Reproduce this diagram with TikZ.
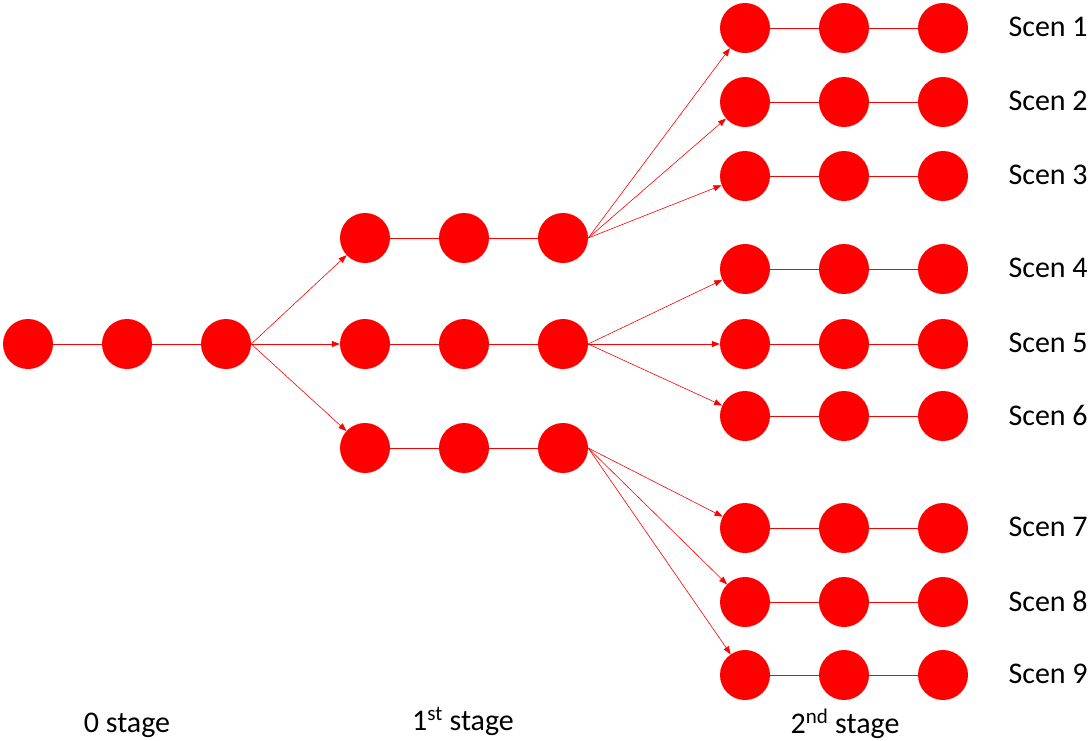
\documentclass[tikz,border=0pt]{standalone}
\usepackage{fontspec}
\setmainfont{Carlito}
\usetikzlibrary{arrows.meta}

\tikzset{
  dot/.style={circle, fill=red, minimum size=50pt, inner sep=0pt},
  link/.style={red, line width=0.6pt},
  branch/.style={red, line width=0.6pt, -{Triangle[length=8pt,width=6pt]}},
  lbl/.style={font=\fontsize{30}{36}\selectfont}
}

\begin{document}
\begin{tikzpicture}[x=1pt, y=-1pt]
  \useasboundingbox (0,0) rectangle (1091,740);
  % 0 stage
  \foreach \col/\xx in {a/28, b/127, c/226}
    \node[dot] (s0-\col) at (\xx,344) {};
  \draw[link] (s0-a) -- (s0-b) -- (s0-c);
  % 1st stage
  \foreach \row/\yy in {1/238, 2/344, 3/448} {
    \foreach \col/\xx in {a/365, b/464, c/563}
      \node[dot] (s1-\row-\col) at (\xx,\yy) {};
    \draw[link] (s1-\row-a) -- (s1-\row-b) -- (s1-\row-c);
  }
  % 2nd stage
  \foreach \row/\yy in {1/28, 2/102, 3/176, 4/269, 5/344, 6/416, 7/528, 8/602, 9/675} {
    \foreach \col/\xx in {a/745, b/844, c/943}
      \node[dot] (s2-\row-\col) at (\xx,\yy) {};
    \draw[link] (s2-\row-a) -- (s2-\row-b) -- (s2-\row-c);
    \node[lbl, anchor=west] (scen\row) at (1005,\yy-1) {Scen \row};
  }
  % branches
  \foreach \dst in {1,2,3}
    \draw[branch] (s0-c.east) -- (s1-\dst-a);
  \foreach \src/\dst in {1/1, 1/2, 1/3, 2/4, 2/5, 2/6, 3/7, 3/8, 3/9}
    \draw[branch] (s1-\src-c.east) -- (s2-\dst-a);
  % stage labels
  \node[lbl, anchor=base] (st0) at (127,732) {0 stage};
  \node[lbl, anchor=base] (st1) at (463,730) {1\textsuperscript{st} stage};
  \node[lbl, anchor=base] (st2) at (845,733) {2\textsuperscript{nd} stage};
\end{tikzpicture}
\end{document}
